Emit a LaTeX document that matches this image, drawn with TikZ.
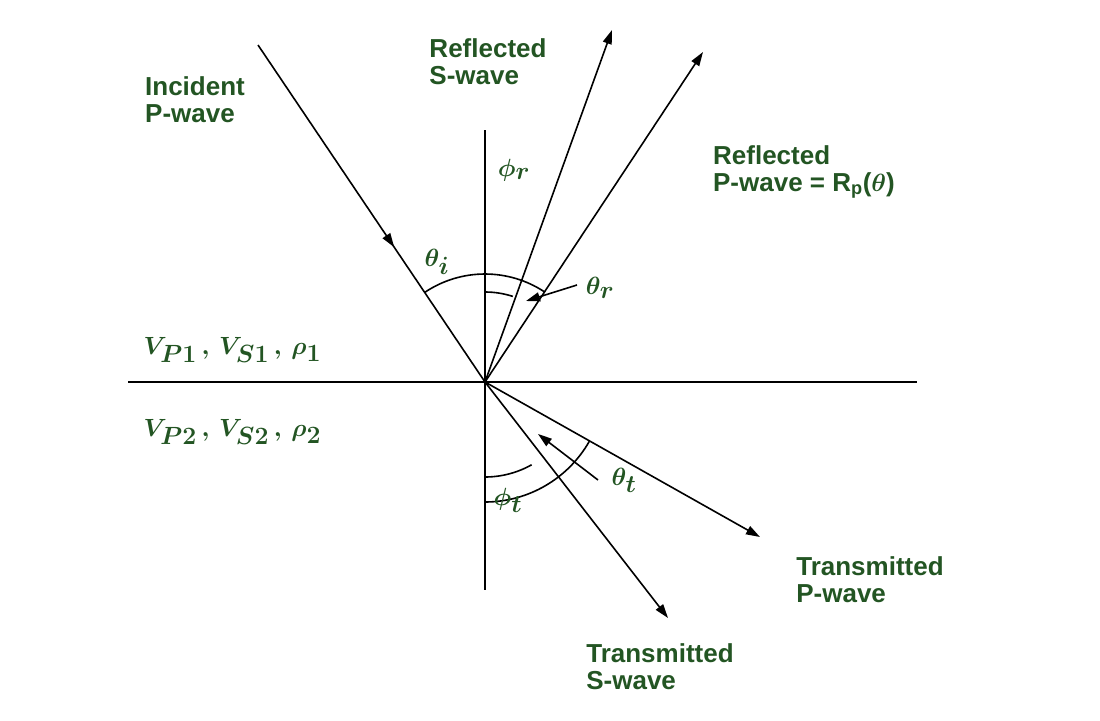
\documentclass[tikz,border=0pt]{standalone}
\usepackage{fontspec}
\setmainfont{Liberation Sans}
\usepackage{amsmath}
\usetikzlibrary{arrows.meta,decorations.markings}
\definecolor{dg}{RGB}{35,85,35}
\begin{document}
\begin{tikzpicture}[x=1pt,y=-1pt,
  lab/.style={text=dg,font=\fontsize{26}{27}\selectfont\bfseries,align=left},
  mth/.style={text=dg,font=\fontsize{38}{40}\selectfont},
  ray/.style={line width=1.6pt,-{Triangle[length=14pt,width=9pt]}},
  ln/.style={line width=1.6pt}]
\useasboundingbox (0,0) rectangle (1100,720);
\coordinate (O) at (485,382);
\coordinate (hl) at (128,382); \coordinate (hr) at (917,382);
\coordinate (vt) at (485,130); \coordinate (vb) at (485,590);
\coordinate (inc) at (258,45);
\coordinate (rs) at (612,30); \coordinate (rp) at (703,52);
\coordinate (tp) at (760,537); \coordinate (ts) at (668,618);
\draw[ln] (hl)--(hr); \draw[ln] (vt)--(vb);
\draw[ln,decoration={markings,mark=at position 0.6 with {\arrow{Triangle[length=14pt,width=9pt]}}},postaction=decorate] (inc)--(O);
\draw[ray] (O)--(rs);
\draw[ray] (O)--(rp);
\draw[ray] (O)--(tp);
\draw[ray] (O)--(ts);
% arcs upper
\draw[ln] (O) ++(-123.9:108) arc[start angle=-123.9,end angle=-56.5,radius=108];
\draw[ln] (O) ++(-90:90) arc[start angle=-90,end angle=-72,radius=90];
% arcs lower
\draw[ln] (O) ++(90:95) arc[start angle=90,end angle=60.6,radius=95];
\draw[ln] (O) ++(90:120) arc[start angle=90,end angle=29.6,radius=120];
% pointer arrows
\coordinate (pa1) at (577,285); \coordinate (pb1) at (526,301);
\draw[ray] (pa1)--(pb1);
\coordinate (pa2) at (598,480); \coordinate (pb2) at (538,434);
\draw[ray] (pa2)--(pb2);
\node[lab] (l1) at (195,100) {Incident\\P-wave};
\node[lab] (l2) at (488,62) {Reflected\\S-wave};
\node[lab] (l3) at (804,172) {Reflected\\P-wave = R\textsubscript{p}($\boldsymbol\theta$)};
\node[lab] (l4) at (870,580) {Transmitted\\P-wave};
\node[lab] (l5) at (660,667) {Transmitted\\S-wave};
\node[mth] (m1) at (514,170) {$\boldsymbol{\phi_r}$};
\node[mth] (m2) at (437,262) {$\boldsymbol{\theta_i}$};
\node[mth] (m3) at (600,288) {$\boldsymbol{\theta_r}$};
\node[mth] (m4) at (624,480) {$\boldsymbol{\theta_t}$};
\node[mth] (m5) at (508,500) {$\boldsymbol{\phi_t}$};
\node[mth,anchor=west] (m6) at (140,350) {$\boldsymbol{V_{P1}\,,\,V_{S1}\,,\,\rho_1}$};
\node[mth,anchor=west] (m7) at (140,432) {$\boldsymbol{V_{P2}\,,\,V_{S2}\,,\,\rho_2}$};
\end{tikzpicture}
\end{document}
